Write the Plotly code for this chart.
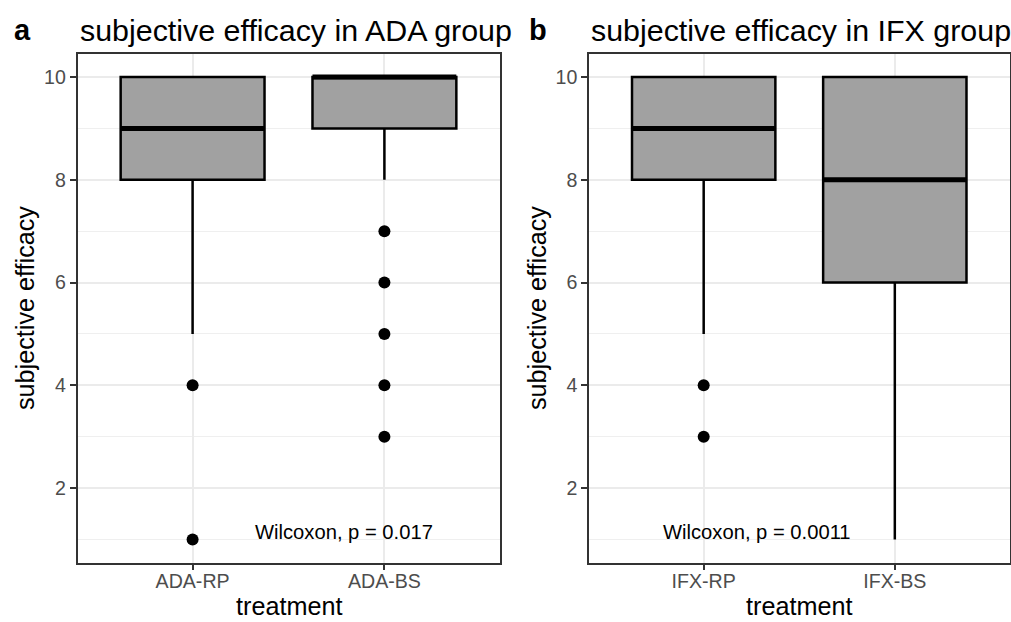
import plotly.graph_objects as go

W, H = 1011, 622

# ---- data ----
ada_categories = ["ADA-RP", "ADA-BS"]
ada_q1 = [8, 9]
ada_median = [9, 10]
ada_q3 = [10, 10]
ada_lower = [5, 8]
ada_upper = [10, 10]
ada_outliers = [[4, 1], [7, 6, 5, 4, 3]]

ifx_categories = ["IFX-RP", "IFX-BS"]
ifx_q1 = [8, 6]
ifx_median = [9, 8]
ifx_q3 = [10, 10]
ifx_lower = [5, 1]
ifx_upper = [10, 10]
ifx_outliers = [[4, 3], []]

panel_titles = ["subjective efficacy in ADA group", "subjective efficacy in IFX group"]
panel_tags = ["a", "b"]
pvalue_labels = ["Wilcoxon, p = 0.017", "Wilcoxon, p = 0.0011"]
pvalue_x = [1.79, 1.28]
pvalue_y = [1.15, 1.15]
y_ticks = [2, 4, 6, 8, 10]
y_minor = [1, 3, 5, 7, 9]

FONT = "Liberation Sans, Arial, Helvetica, sans-serif"
BOX_FILL = "#A1A1A1"
BOX_W = 0.75

fig = go.Figure()

panels = [
    (ada_categories, ada_q1, ada_median, ada_q3, ada_lower, ada_upper, ada_outliers),
    (ifx_categories, ifx_q1, ifx_median, ifx_q3, ifx_lower, ifx_upper, ifx_outliers),
]

x_domains = [[77.5 / W, 499.5 / W], [589 / W, 1009.5 / W]]
y_domain = [1 - 562.5 / H, 1 - 54 / H]

for p, (cats, q1, med, q3, lo, hi, outs) in enumerate(panels):
    xa = "x" if p == 0 else "x2"
    ya = "y" if p == 0 else "y2"
    for i, c in enumerate(cats):
        pos = i + 1
        fig.add_trace(go.Box(
            x=[pos], q1=[q1[i]], median=[med[i]], q3=[q3[i]],
            lowerfence=[lo[i]], upperfence=[hi[i]],
            width=BOX_W, fillcolor=BOX_FILL,
            line=dict(color="black", width=2.5),
            whiskerwidth=0, boxpoints=False,
            xaxis=xa, yaxis=ya, showlegend=False, hoverinfo="skip",
        ))
        # thicker median (ggplot fatten)
        fig.add_trace(go.Scatter(
            x=[pos - BOX_W / 2, pos + BOX_W / 2], y=[med[i], med[i]],
            mode="lines", line=dict(color="black", width=5),
            xaxis=xa, yaxis=ya, showlegend=False, hoverinfo="skip",
        ))
        if outs[i]:
            fig.add_trace(go.Scatter(
                x=[pos] * len(outs[i]), y=outs[i], mode="markers",
                marker=dict(color="black", size=12),
                xaxis=xa, yaxis=ya, showlegend=False, hoverinfo="skip",
            ))

axis_common = dict(
    showline=True, linecolor="#333333", linewidth=1.5, mirror=True,
    ticks="outside", ticklen=6, tickwidth=1.5, tickcolor="#333333",
    tickfont=dict(family=FONT, size=19.6, color="#4D4D4D"),
    showgrid=True, gridcolor="#EBEBEB", gridwidth=2, zeroline=False,
)

for p in range(2):
    cats = panels[p][0]
    xkey = "xaxis" if p == 0 else "xaxis2"
    ykey = "yaxis" if p == 0 else "yaxis2"
    fig.update_layout(**{
        xkey: dict(axis_common, domain=x_domains[p], range=[0.4, 2.6],
                   tickvals=[1, 2], ticktext=cats, ticklabelstandoff=-6,
                   anchor="y" if p == 0 else "y2"),
        ykey: dict(axis_common, domain=y_domain, range=[0.55, 10.45],
                   tickvals=y_ticks, ticktext=[str(v) for v in y_ticks],
                   minor=dict(tickvals=y_minor, showgrid=True, gridcolor="#EFEFEF",
                              gridwidth=1.2, ticks=""),
                   anchor="x" if p == 0 else "x2"),
    })

annotations = []
for p in range(2):
    x0 = x_domains[p][0]
    x1 = x_domains[p][1]
    xref = "x" if p == 0 else "x2"
    yref = "y" if p == 0 else "y2"
    annotations.append(dict(
        text=f"<b>{panel_tags[p]}</b>", xref="paper", yref="paper",
        x=(12 if p == 0 else 527) / W, y=1 - 30 / H, xanchor="left", yanchor="middle",
        showarrow=False, font=dict(family=FONT, size=29, color="black"),
    ))
    annotations.append(dict(
        text=panel_titles[p], xref="paper", yref="paper",
        x=x0, y=1 - 30 / H, xanchor="left", yanchor="middle",
        showarrow=False, font=dict(family=FONT, size=30.4, color="black"),
    ))
    annotations.append(dict(
        text="subjective efficacy", xref="paper", yref="paper",
        x=(25 if p == 0 else 537) / W, y=1 - 308 / H, xanchor="center", yanchor="middle",
        textangle=-90, showarrow=False, font=dict(family=FONT, size=25.2, color="black"),
    ))
    annotations.append(dict(
        text="treatment", xref="paper", yref="paper",
        x=(x0 + x1) / 2, y=1 - 606 / H, xanchor="center", yanchor="middle",
        showarrow=False, font=dict(family=FONT, size=25.2, color="black"),
    ))
    annotations.append(dict(
        text=pvalue_labels[p], xref=xref, yref=yref,
        x=pvalue_x[p], y=pvalue_y[p], xanchor="center", yanchor="middle",
        showarrow=False, font=dict(family=FONT, size=20.2, color="black"),
    ))

fig.update_layout(
    width=W, height=H, margin=dict(l=0, r=0, t=0, b=0),
    paper_bgcolor="white", plot_bgcolor="white",
    annotations=annotations, showlegend=False,
    font=dict(family=FONT),
)

fig.write_html("out.html", config={"displayModeBar": False},
               post_script="document.body.style.margin='0';")
